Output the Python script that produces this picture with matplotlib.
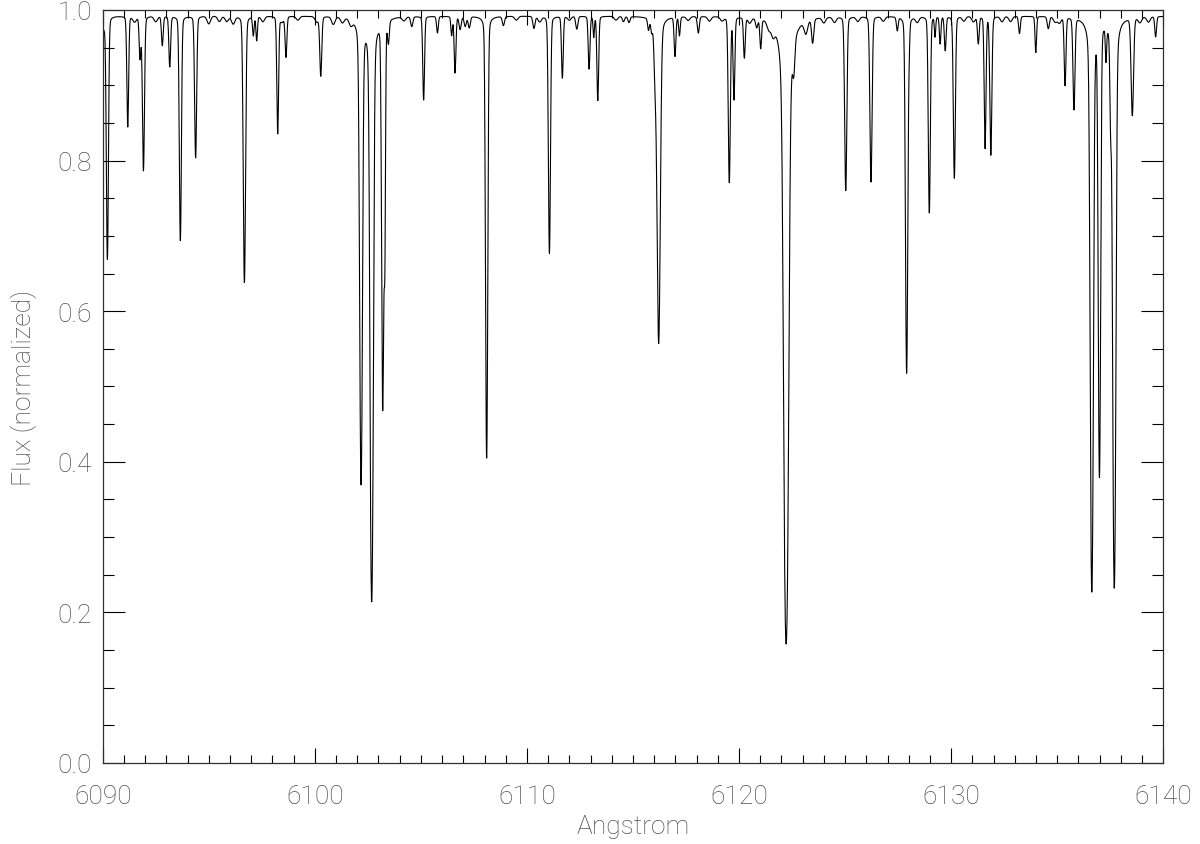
import numpy as np
import matplotlib

matplotlib.use('Agg')
import matplotlib.pyplot as plt
from matplotlib.ticker import MultipleLocator, FormatStrFormatter

# absorption lines: centre (A), minimum flux, gaussian sigma (A), lorentz fraction
line_wave = [6090.22, 6091.18, 6091.76, 6091.92, 6092.81, 6093.16, 6093.66, 6094.38,
             6096.68, 6097.10, 6097.26, 6098.25, 6098.64, 6100.28, 6102.18, 6102.68,
             6103.20, 6103.30, 6103.47, 6104.57, 6105.13, 6105.78, 6106.45, 6106.61,
             6106.85, 6107.09, 6107.28, 6108.10, 6108.89, 6110.33, 6111.06, 6111.67,
             6112.35, 6112.93, 6113.15, 6113.34, 6114.55, 6114.81, 6115.73, 6115.88,
             6116.04, 6116.21, 6116.98, 6117.19, 6118.08, 6119.54, 6119.76, 6120.25,
             6120.83, 6121.02, 6122.22, 6122.58, 6123.15, 6123.47, 6125.03, 6126.22,
             6127.46, 6127.90, 6128.02, 6128.97, 6129.24, 6129.48, 6129.72, 6130.15,
             6131.28, 6131.60, 6131.87, 6133.22, 6133.99, 6134.58, 6135.37, 6135.79,
             6136.63, 6136.99, 6137.30, 6137.52, 6137.69, 6138.54, 6139.64]
line_flux = [0.670, 0.845, 0.937, 0.787, 0.953, 0.925, 0.694, 0.804,
             0.638, 0.967, 0.960, 0.836, 0.938, 0.913, 0.372, 0.215,
             0.474, 0.700, 0.963, 0.979, 0.881, 0.970, 0.967, 0.917,
             0.975, 0.979, 0.977, 0.405, 0.980, 0.976, 0.677, 0.910,
             0.975, 0.922, 0.965, 0.880, 0.985, 0.984, 0.977, 0.977,
             0.925, 0.558, 0.940, 0.967, 0.970, 0.772, 0.883, 0.938,
             0.980, 0.953, 0.158, 0.950, 0.975, 0.960, 0.761, 0.772,
             0.974, 0.518, 0.965, 0.731, 0.966, 0.956, 0.947, 0.777,
             0.956, 0.817, 0.808, 0.969, 0.944, 0.976, 0.901, 0.870,
             0.228, 0.385, 0.947, 0.877, 0.233, 0.862, 0.965]
line_sigma = [0.045, 0.040, 0.040, 0.045, 0.040, 0.040, 0.045, 0.045,
              0.050, 0.035, 0.035, 0.040, 0.040, 0.045, 0.055, 0.060,
              0.045, 0.030, 0.040, 0.050, 0.040, 0.040, 0.035, 0.040,
              0.050, 0.050, 0.050, 0.045, 0.050, 0.050, 0.045, 0.040,
              0.050, 0.040, 0.030, 0.040, 0.050, 0.050, 0.040, 0.040,
              0.050, 0.068, 0.040, 0.035, 0.045, 0.045, 0.040, 0.040,
              0.050, 0.040, 0.085, 0.050, 0.080, 0.050, 0.048, 0.048,
              0.040, 0.048, 0.030, 0.045, 0.030, 0.035, 0.040, 0.045,
              0.040, 0.040, 0.045, 0.040, 0.035, 0.050, 0.040, 0.045,
              0.058, 0.048, 0.030, 0.035, 0.058, 0.055, 0.040]
line_eta = [0.06] * 14 + [0.10, 0.10] + [0.06] * 25 + [0.10] + [0.06] * 8 + [0.15] \
    + [0.06] * 21 + [0.10] + [0.06] * 3 + [0.10, 0.06, 0.06]

# weak features that make the ripple on the continuum
weak_wave = [6090.05, 6091.50, 6092.50, 6095.00, 6095.50, 6095.85, 6096.15, 6097.55,
             6098.45, 6099.20, 6100.09, 6100.87, 6101.30, 6101.70, 6104.20, 6109.50,
             6110.60, 6112.00, 6114.20, 6117.60, 6118.60, 6119.20, 6120.50, 6121.40,
             6121.60, 6124.00, 6124.50, 6125.60, 6126.80, 6128.40, 6130.60, 6131.05,
             6132.40, 6132.80, 6134.90, 6135.10, 6138.90, 6139.30]
weak_flux = [0.978, 0.985, 0.985, 0.982, 0.985, 0.985, 0.982, 0.985,
             0.985, 0.987, 0.985, 0.982, 0.985, 0.984, 0.987, 0.987,
             0.985, 0.987, 0.987, 0.987, 0.986, 0.987, 0.985, 0.982,
             0.978, 0.985, 0.985, 0.986, 0.986, 0.985, 0.986, 0.985,
             0.985, 0.985, 0.985, 0.984, 0.985, 0.985]

continuum = 0.992
wave = np.arange(6089.5, 6140.5, 0.01)


def line_tau(center, fmin, sigma, eta):
    tau0 = np.log(continuum / fmin)
    dx = wave - center
    gauss = np.exp(-0.5 * (dx / sigma) ** 2)
    lorentz = 1.0 / (1.0 + (dx / (1.8 * sigma)) ** 2)
    return tau0 * ((1 - eta) * gauss + eta * lorentz)


tau = np.zeros_like(wave)
for c, f, s, e in zip(line_wave, line_flux, line_sigma, line_eta):
    tau += line_tau(c, f, s, e)
for c, f in zip(weak_wave, weak_flux):
    tau += line_tau(c, f, 0.08, 0.0)
flux = continuum * np.exp(-tau)

text_color = '#505050'
plt.rcParams['font.family'] = ['Roboto', 'DejaVu Sans']
plt.rcParams['font.weight'] = 'light'
plt.rcParams['axes.labelweight'] = 'light'

fig = plt.figure(figsize=(12, 8.45), dpi=100)
ax = fig.add_axes([0.0856, 0.0959, 0.8838, 0.8911])
ax.plot(wave, flux, color='black', linewidth=0.8)

ax.set_xlim(6090, 6140)
ax.set_ylim(0, 1.0)
ax.xaxis.set_major_locator(MultipleLocator(10))
ax.xaxis.set_minor_locator(MultipleLocator(1))
ax.yaxis.set_major_locator(MultipleLocator(0.2))
ax.yaxis.set_minor_locator(MultipleLocator(0.05))
ax.yaxis.set_major_formatter(FormatStrFormatter('%.1f'))

ax.tick_params(which='both', direction='in', top=True, right=True, width=0.8,
               labelsize=19, labelcolor=text_color)
ax.tick_params(axis='x', which='major', length=10.8, pad=15)
ax.tick_params(axis='x', which='minor', length=5.6)
ax.tick_params(axis='y', which='major', length=15.6, pad=7.7)
ax.tick_params(axis='y', which='minor', length=7.8)
for spine in ax.spines.values():
    spine.set_linewidth(0.9)
    spine.set_color('#303030')

ax.set_xlabel('Angstrom', fontsize=19, color=text_color, fontweight='light')
ax.set_ylabel('Flux (normalized)', fontsize=19, color=text_color, fontweight='light')
ax.xaxis.set_label_coords(0.5, -0.068)
ax.yaxis.set_label_coords(-0.062, 0.5)

fig.savefig('out.png', dpi=100)
plt.close(fig)
